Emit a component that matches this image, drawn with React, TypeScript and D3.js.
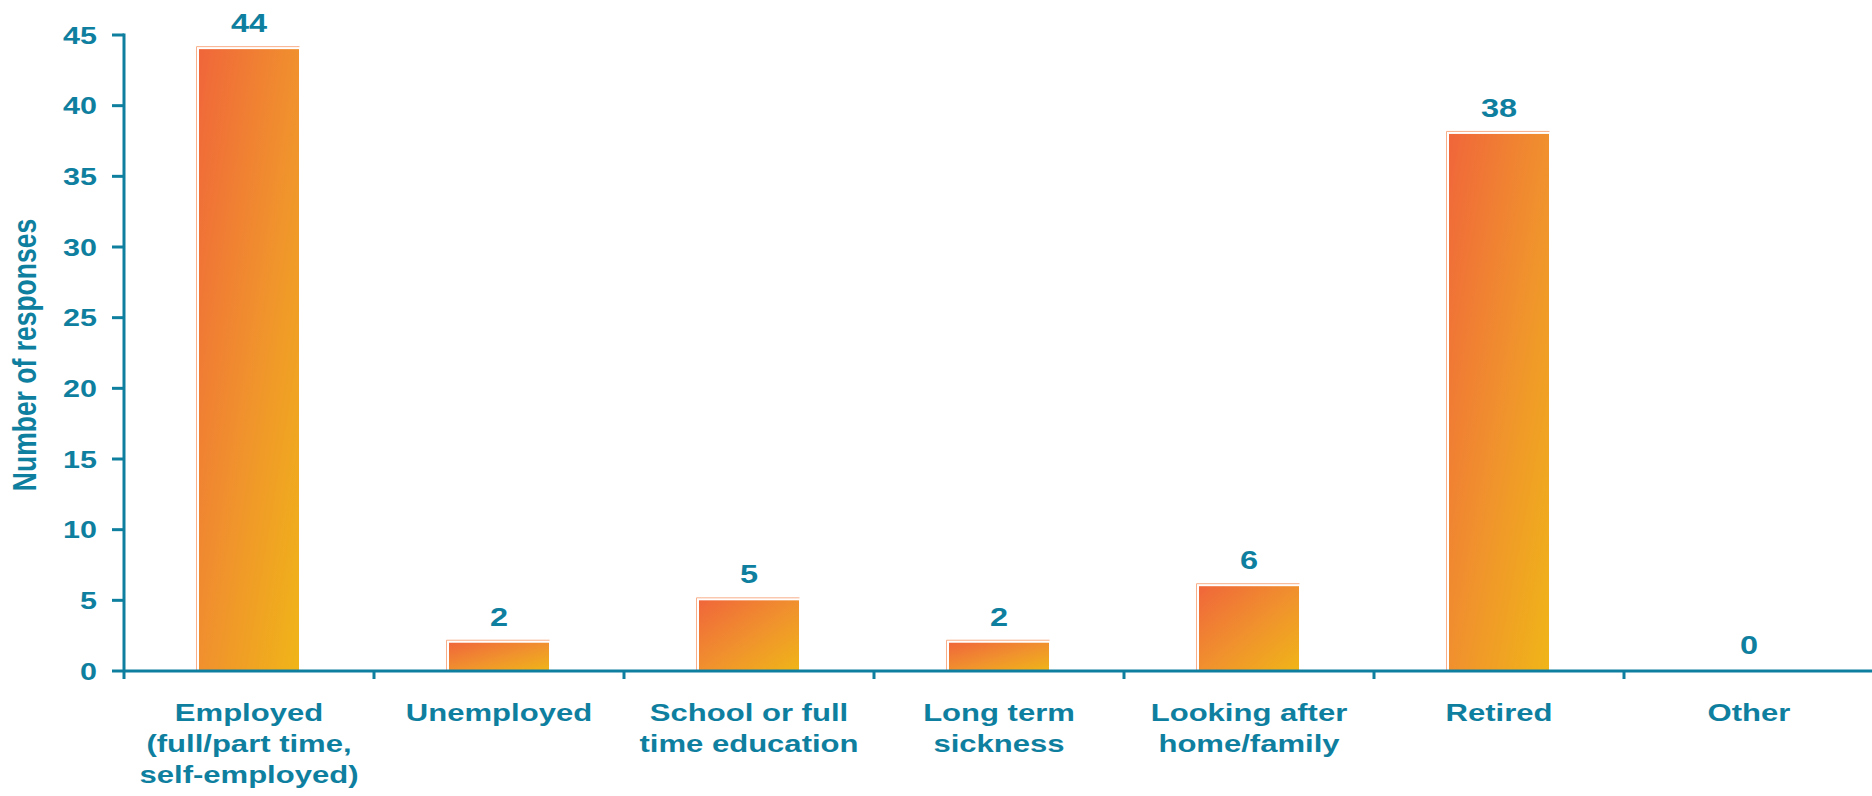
import React from "react";
import * as d3 from "d3";

const categories: string[][] = [
  ["Employed", "(full/part time,", "self-employed)"],
  ["Unemployed"],
  ["School or full", "time education"],
  ["Long term", "sickness"],
  ["Looking after", "home/family"],
  ["Retired"],
  ["Other"],
];
const values: number[] = [44, 2, 5, 2, 6, 38, 0];
const yTicks: number[] = [0, 5, 10, 15, 20, 25, 30, 35, 40, 45];
const yTitle = "Number of responses";

const W = 1872;
const H = 796;
const TEAL = "#0F7F9F";
const FONT = "'Liberation Sans', Arial, sans-serif";

export default function App() {
  const x = d3
    .scaleBand<number>()
    .domain(values.map((_, i) => i))
    .range([124, 1874])
    .paddingInner(0.6)
    .paddingOuter(0.3);
  const y = d3.scaleLinear().domain([0, 45]).range([671, 35]);
  const step = x.step();
  const x0 = 124;

  return (
    <div style={{ position: "fixed", left: 0, top: 0, width: W, height: H, background: "#fff" }}>
      <svg width={W} height={H} style={{ display: "block" }}>
        <defs>
          <linearGradient id="barGrad" x1="0" y1="0" x2="1" y2="1">
            <stop offset="0" stopColor="#F0663A" />
            <stop offset="0.5" stopColor="#F0902E" />
            <stop offset="1" stopColor="#F0B518" />
          </linearGradient>
        </defs>

        {/* bars */}
        {values.map((v, i) => {
          if (v <= 0) return null;
          const bx = x(i)!;
          const bw = x.bandwidth();
          const top = y(v);
          const h = y(0) - top;
          return (
            <g key={i}>
              <path
                d={`M${bx - 2.5},${y(0)} V${top - 2.5} H${bx + bw + 0.5}`}
                fill="none"
                stroke="#F8AE88"
                strokeWidth={1}
              />
              <rect x={bx} y={top} width={bw} height={h} fill="url(#barGrad)" />
            </g>
          );
        })}

        {/* value labels */}
        {values.map((v, i) => {
          const cx = x(i)! + x.bandwidth() / 2;
          return (
            <text
              key={i}
              transform={`translate(${cx},${y(v) - 17}) scale(1.3,1)`}
              textAnchor="middle"
              fontFamily={FONT}
              fontWeight="bold"
              fontSize={25}
              fill={TEAL}
            >
              {v}
            </text>
          );
        })}

        {/* y axis */}
        <line x1={x0} x2={x0} y1={y(45) - 1.5} y2={679} stroke={TEAL} strokeWidth={3} />
        {yTicks.map((t) => (
          <g key={t}>
            <line x1={x0 - 12} x2={x0} y1={y(t)} y2={y(t)} stroke={TEAL} strokeWidth={3} />
            <text
              transform={`translate(97,${y(t) + 8.6}) scale(1.27,1)`}
              textAnchor="end"
              fontFamily={FONT}
              fontWeight="bold"
              fontSize={24}
              fill={TEAL}
            >
              {t}
            </text>
          </g>
        ))}

        {/* x axis */}
        <line x1={x0} x2={W} y1={y(0)} y2={y(0)} stroke={TEAL} strokeWidth={3} />
        {values.map((_, i) => (
          <line
            key={i}
            x1={x0 + step * (i + 1)}
            x2={x0 + step * (i + 1)}
            y1={y(0)}
            y2={y(0) + 8}
            stroke={TEAL}
            strokeWidth={3}
          />
        ))}
        {categories.map((lines, i) => {
          const cx = x(i)! + x.bandwidth() / 2;
          return (
            <g key={i}>
              {lines.map((ln, j) => (
                <text
                  key={j}
                  transform={`translate(${cx},${721 + j * 31}) scale(1.35,1)`}
                  textAnchor="middle"
                  fontFamily={FONT}
                  fontWeight="bold"
                  fontSize={23}
                  fill={TEAL}
                >
                  {ln}
                </text>
              ))}
            </g>
          );
        })}

        {/* y title */}
        <text
          transform={`translate(36,355) scale(1.22,1) rotate(-90)`}
          textAnchor="middle"
          fontFamily={FONT}
          fontWeight="bold"
          fontSize={26.5}
          fill={TEAL}
        >
          {yTitle}
        </text>
      </svg>
    </div>
  );
}
